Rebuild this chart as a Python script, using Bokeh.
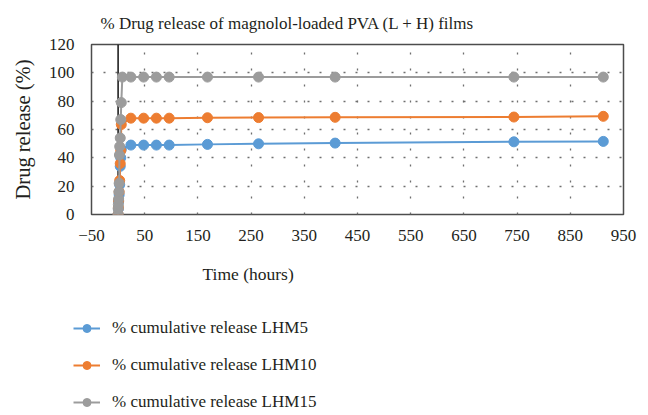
from bokeh.plotting import figure
from bokeh.models import (FixedTicker, Span, Legend, LegendItem, Title, Range1d)
from bokeh.layouts import column
from bokeh.embed import file_html
from bokeh.resources import INLINE

# ---- data ----
time_lhm5 = [0, 0.5, 1, 2, 3, 4, 5, 6, 24, 48, 72, 96, 168, 264, 408, 744, 912]
rel_lhm5 = [0, 4, 9, 14, 21, 34, 40, 46, 49, 49, 49, 49, 49.5, 49.9, 50.4, 51.3, 51.6]

time_lhm10 = [0, 0.5, 1, 2, 3, 4, 5, 6, 24, 48, 72, 96, 168, 264, 408, 744, 912]
rel_lhm10 = [0, 5, 10, 16, 24, 36, 45, 63.5, 68, 68, 68, 68, 68.3, 68.4, 68.6, 68.8, 69.3]

time_lhm15 = [0, 0.25, 0.5, 1, 1.5, 2, 2.5, 3, 4, 5, 6, 8, 24, 48, 72, 96, 168, 264, 408, 744, 912]
rel_lhm15 = [0, 4, 7, 11, 16, 22, 42, 48, 54, 67, 79, 97, 97, 97, 97, 97, 97, 97, 97, 97, 97]

series_names = ["% cumulative release LHM5", "% cumulative release LHM10", "% cumulative release LHM15"]
series_colors = ["#5B9BD5", "#ED7D31", "#9C9C9C"]

x_ticks = [-50, 50, 150, 250, 350, 450, 550, 650, 750, 850, 950]
y_ticks = [0, 20, 40, 60, 80, 100, 120]

FONT = "Liberation Serif"
TXT = "#231f20"

p = figure(width=648, height=302, output_backend="svg", toolbar_location=None,
           x_range=Range1d(-50, 950), y_range=Range1d(0, 120),
           min_border_left=91, min_border_right=25, min_border_top=40, min_border_bottom=88)
p.frame_align = False

p.title.text = "% Drug release of magnolol-loaded PVA (L + H) films"
p.title.align = "left"
p.title.offset = 9
p.title.standoff = 23
p.title.text_font = FONT
p.title.text_font_size = "17px"
p.title.text_font_style = "normal"
p.title.text_color = TXT

p.xaxis.ticker = FixedTicker(ticks=x_ticks)
p.yaxis.ticker = FixedTicker(ticks=y_ticks)
for ax in (p.xaxis, p.yaxis):
    ax.axis_line_color = None
    ax.major_tick_line_color = None
    ax.minor_tick_line_color = None
    ax.major_label_text_font = FONT
    ax.major_label_text_font_size = "17px"
    ax.major_label_text_color = TXT
    ax.axis_label_text_font = FONT
    ax.axis_label_text_font_style = "normal"
    ax.axis_label_text_color = TXT
p.xaxis.major_label_standoff = 9
p.yaxis.major_label_standoff = 11
p.yaxis.axis_label = "Drug release (%)"
p.yaxis.axis_label_text_font_size = "20.5px"
p.yaxis.axis_label_standoff = 12

xt = Title(text="Time (hours)", align="left", offset=111, text_font=FONT,
           text_font_size="17.5px", text_font_style="normal", text_color=TXT, standoff=37)
p.add_layout(xt, "below")

p.xgrid.grid_line_color = "#6f6f6f"
p.xgrid.grid_line_dash = "2 14"
p.xgrid.grid_line_width = 1.3
p.ygrid.grid_line_color = "#6f6f6f"
p.ygrid.grid_line_dash = "2 10"
p.ygrid.grid_line_width = 1.3

p.outline_line_color = "#4d4d4d"
p.outline_line_width = 1.5

p.add_layout(Span(location=0, dimension="height", line_color="#111111",
                  line_width=1.5, level="underlay"))

times = [time_lhm5, time_lhm10, time_lhm15]
rels = [rel_lhm5, rel_lhm10, rel_lhm15]
for t, r, c in zip(times, rels, series_colors):
    p.line(t, r, line_color=c, line_width=2)
    p.scatter(t, r, size=10, fill_color=c, line_color=c)

# legend panel below the chart
p2 = figure(width=648, height=113, output_backend="svg", toolbar_location=None,
            x_axis_type=None, y_axis_type=None, min_border=0)
p2.frame_align = False
p2.outline_line_color = None
p2.xgrid.visible = False
p2.ygrid.visible = False
items = []
for t, r, name, c in zip(times, rels, series_names, series_colors):
    ln = p2.line(t, r, line_color=c, line_width=2, visible=False)
    sc = p2.scatter(t, r, size=8, fill_color=c, line_color=c, visible=False)
    items.append(LegendItem(label=name, renderers=[ln, sc]))

legend = Legend(items=items, location=(73, 3), padding=0, margin=0,
                spacing=17, glyph_height=20, label_height=20, glyph_width=27,
                label_standoff=12, border_line_color=None, background_fill_alpha=0,
                inactive_fill_alpha=0,
                label_text_font=FONT, label_text_font_size="17px", label_text_color=TXT)
p2.add_layout(legend, "center")

layout = column(p, p2, spacing=0)
open("out.html", "w").write(file_html(layout, INLINE))
